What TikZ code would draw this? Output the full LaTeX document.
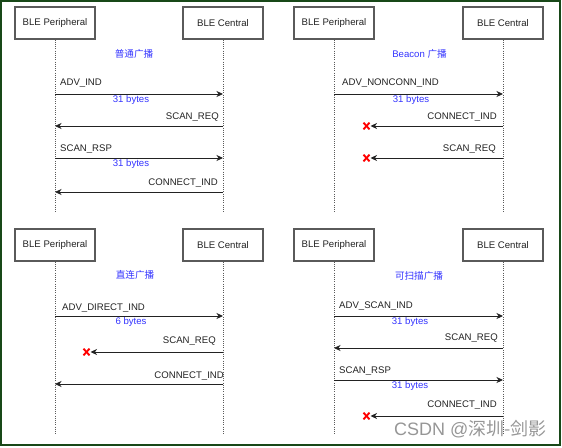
\documentclass[tikz,border=0pt]{standalone}
\usepackage{fontspec}
\setmainfont{Liberation Sans}
\newfontfamily\cjk{Noto Sans CJK SC}
\usetikzlibrary{arrows.meta}
\definecolor{frameg}{RGB}{24,72,24}
\definecolor{boxgray}{RGB}{90,90,90}
\definecolor{txt}{RGB}{34,34,34}
\definecolor{bluet}{RGB}{51,51,255}
\definecolor{wm}{RGB}{150,150,150}
\tikzset{
  actor/.style={draw=boxgray, line width=1.1pt, fill=white, minimum width=80pt, minimum height=32pt, inner sep=0pt, text=txt},
  life/.style={draw=boxgray, line width=0.9pt, dash pattern=on 1pt off 1.2pt},
  msg/.style={draw=txt, line width=0.9pt, -{Stealth[length=6.5pt,width=6pt,inset=2pt]}},
  lbl/.style={inner sep=0pt, text=txt},
  blu/.style={inner sep=0pt, text=bluet},
  xmark/.style={draw=red, line width=1.9pt},
}
\newcommand{\redx}[1]{\draw[xmark] ($(#1)+(-3,-3.3)$) -- ($(#1)+(3,3.3)$); \draw[xmark] ($(#1)+(-3,3.3)$) -- ($(#1)+(3,-3.3)$);}
\usetikzlibrary{calc}
\begin{document}
\begin{tikzpicture}[x=1pt,y=-1pt,font=\fontsize{9.6}{11}\selectfont]
\useasboundingbox (0,0) rectangle (562,447);
\draw[frameg, line width=2pt] (1,1) rectangle (559.5,444.5);

% ---------- Panel 1 (top left) ----------
\node[actor] (p1) at (55,23) {BLE Peripheral};
\node[actor] (c1) at (223,23) {BLE Central};
\coordinate (p1e) at (55,212);
\coordinate (c1e) at (223,212);
\draw[life] (p1) -- (p1e);
\draw[life] (c1) -- (c1e);
\node[blu] (t1) at (134,54) {\cjk 普通广播};
\coordinate (p1a) at (55,94);  \coordinate (c1a) at (223,94);
\coordinate (p1b) at (55,126); \coordinate (c1b) at (223,126);
\coordinate (p1c) at (55,158); \coordinate (c1c) at (223,158);
\coordinate (p1d) at (55,192); \coordinate (c1d) at (223,192);
\draw[msg] (p1a) -- (c1a);
\draw[msg] (c1b) -- (p1b);
\draw[msg] (p1c) -- (c1c);
\draw[msg] (c1d) -- (p1d);
\node[lbl, anchor=west] (m1a) at (60,83) {ADV\_IND};
\node[blu] (b1a) at (131,100.5) {31 bytes};
\node[lbl, anchor=east] (m1b) at (219,117) {SCAN\_REQ};
\node[lbl, anchor=west] (m1c) at (60,149) {SCAN\_RSP};
\node[blu] (b1c) at (131,164.5) {31 bytes};
\node[lbl, anchor=east] (m1d) at (218,183) {CONNECT\_IND};

% ---------- Panel 2 (top right) ----------
\node[actor] (p2) at (334,23) {BLE Peripheral};
\node[actor] (c2) at (503,23) {BLE Central};
\coordinate (p2e) at (334,212);
\coordinate (c2e) at (503,212);
\draw[life] (p2) -- (p2e);
\draw[life] (c2) -- (c2e);
\node[blu] (t2) at (419.5,54) {Beacon {\cjk 广播}};
\coordinate (p2a) at (334,94);  \coordinate (c2a) at (503,94);
\coordinate (x2b) at (366.5,126); \coordinate (e2b) at (370.5,126); \coordinate (c2b) at (503,126);
\coordinate (x2c) at (366.5,158); \coordinate (e2c) at (370.5,158); \coordinate (c2c) at (503,158);
\draw[msg] (p2a) -- (c2a);
\draw[msg] (c2b) -- (e2b);
\draw[msg] (c2c) -- (e2c);
\redx{x2b}
\redx{x2c}
\node[lbl, anchor=west] (m2a) at (342,83) {ADV\_NONCONN\_IND};
\node[blu] (b2a) at (411,100.5) {31 bytes};
\node[lbl, anchor=east] (m2b) at (497,117) {CONNECT\_IND};
\node[lbl, anchor=east] (m2c) at (496,149) {SCAN\_REQ};

% ---------- Panel 3 (bottom left) ----------
\node[actor] (p3) at (55,245) {BLE Peripheral};
\node[actor] (c3) at (223,245) {BLE Central};
\coordinate (p3e) at (55,434);
\coordinate (c3e) at (223,434);
\draw[life] (p3) -- (p3e);
\draw[life] (c3) -- (c3e);
\node[blu] (t3) at (135,275) {\cjk 直连广播};
\coordinate (p3a) at (55,316);  \coordinate (c3a) at (223,316);
\coordinate (x3b) at (86.5,352); \coordinate (e3b) at (90.5,352); \coordinate (c3b) at (223,352);
\coordinate (p3c) at (55,384);  \coordinate (c3c) at (223,384);
\draw[msg] (p3a) -- (c3a);
\draw[msg] (c3b) -- (e3b);
\draw[msg] (c3c) -- (p3c);
\redx{x3b}
\node[lbl, anchor=west] (m3a) at (62,308) {ADV\_DIRECT\_IND};
\node[blu] (b3a) at (131,322.5) {6 bytes};
\node[lbl, anchor=east] (m3b) at (216,341) {SCAN\_REQ};
\node[lbl, anchor=east] (m3c) at (224,376) {CONNECT\_IND};

% ---------- Panel 4 (bottom right) ----------
\node[actor] (p4) at (334,245) {BLE Peripheral};
\node[actor] (c4) at (503,245) {BLE Central};
\coordinate (p4e) at (334,434);
\coordinate (c4e) at (503,434);
\draw[life] (p4) -- (p4e);
\draw[life] (c4) -- (c4e);
\node[blu] (t4) at (419,276) {\cjk 可扫描广播};
\coordinate (p4a) at (334,316);  \coordinate (c4a) at (503,316);
\coordinate (p4b) at (334,348);  \coordinate (c4b) at (503,348);
\coordinate (p4c) at (334,380);  \coordinate (c4c) at (503,380);
\coordinate (x4d) at (366.5,416); \coordinate (e4d) at (370.5,416); \coordinate (c4d) at (503,416);
\draw[msg] (p4a) -- (c4a);
\draw[msg] (c4b) -- (p4b);
\draw[msg] (p4c) -- (c4c);
\draw[msg] (c4d) -- (e4d);
\redx{x4d}
\node[lbl, anchor=west] (m4a) at (339,306) {ADV\_SCAN\_IND};
\node[blu] (b4a) at (410,322.5) {31 bytes};
\node[lbl, anchor=east] (m4b) at (498,338) {SCAN\_REQ};
\node[lbl, anchor=west] (m4c) at (339,371) {SCAN\_RSP};
\node[blu] (b4c) at (410,386.5) {31 bytes};
\node[lbl, anchor=east] (m4d) at (497,405) {CONNECT\_IND};

% watermark
\node[inner sep=0pt, text=wm, font=\fontsize{18}{20}\selectfont] (wmk) at (470.5,429) {CSDN @{\cjk 深圳-剑影}};
\end{tikzpicture}
\end{document}
